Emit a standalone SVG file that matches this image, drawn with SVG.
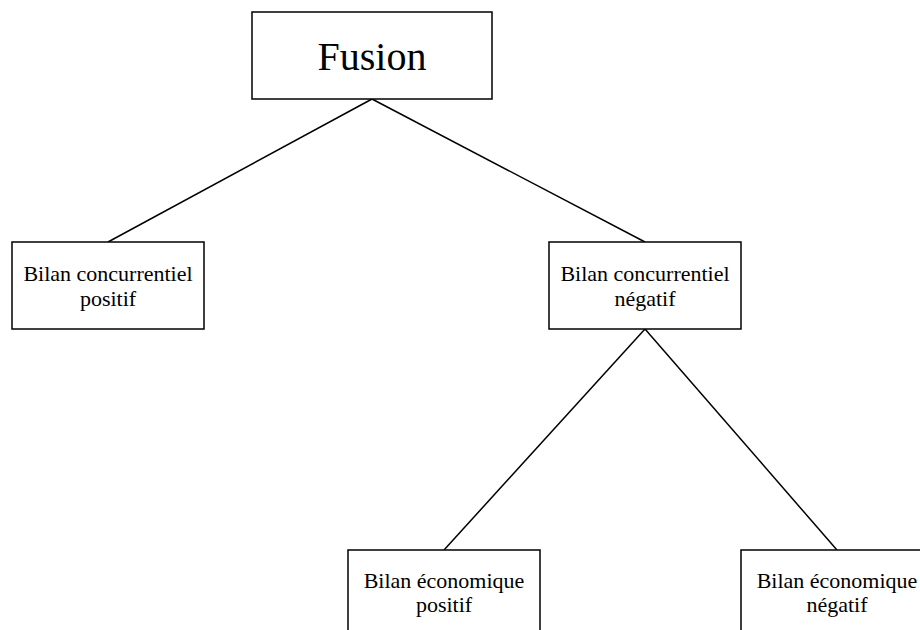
<svg xmlns="http://www.w3.org/2000/svg" width="920" height="630" viewBox="0 0 920 630">
<style>
.box{fill:#fff;stroke:#000;stroke-width:1.5}
.lbl{font-family:"Liberation Serif","Times New Roman",serif;font-size:22px;fill:#000;text-anchor:middle}
.big{font-size:40px}
.con line{stroke:#000;stroke-width:1.5}
</style>
<rect width="920" height="630" fill="#fff"/>
<g class="con" id="connectors">
<line x1="372" y1="99" x2="108" y2="242"/>
<line x1="372" y1="99" x2="645" y2="242"/>
<line x1="645" y1="329" x2="444" y2="550"/>
<line x1="645" y1="329" x2="837" y2="550"/>
</g>
<g id="fusion">
<rect class="box" x="252" y="12" width="240" height="87"/>
<text class="lbl big" x="372" y="70">Fusion</text>
</g>
<g id="bc-positif">
<rect class="box" x="12" y="242" width="192" height="87"/>
<text class="lbl" x="108" y="281">Bilan concurrentiel</text>
<text class="lbl" x="108" y="306">positif</text>
</g>
<g id="bc-negatif">
<rect class="box" x="549" y="242" width="192" height="87"/>
<text class="lbl" x="645" y="281">Bilan concurrentiel</text>
<text class="lbl" x="645" y="306">négatif</text>
</g>
<g id="be-positif">
<rect class="box" x="348" y="550" width="192" height="100"/>
<text class="lbl" x="444" y="588">Bilan économique</text>
<text class="lbl" x="444" y="612">positif</text>
</g>
<g id="be-negatif">
<rect class="box" x="741" y="550" width="192" height="100"/>
<text class="lbl" x="837" y="588">Bilan économique</text>
<text class="lbl" x="837" y="612">négatif</text>
</g>
</svg>
